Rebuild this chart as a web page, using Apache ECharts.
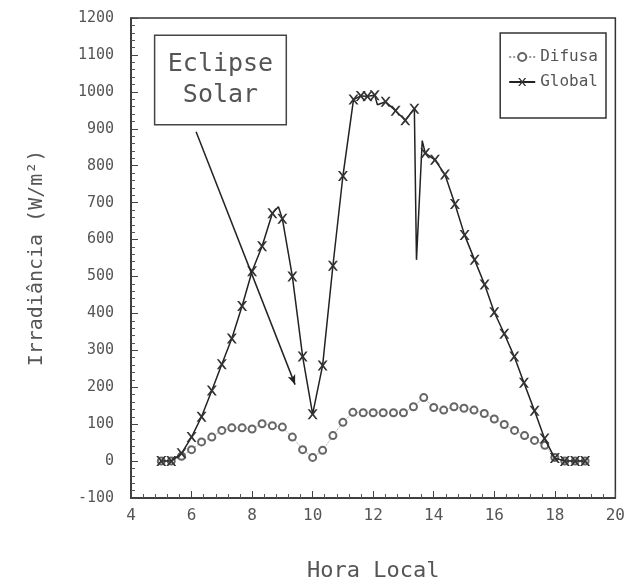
<!DOCTYPE html>
<html><head><meta charset="utf-8">
<script src="https://cdn.jsdelivr.net/npm/echarts@6/dist/echarts.min.js"></script>
<style>html,body{margin:0;padding:0;background:#fff}#c{width:628px;height:587px}</style>
</head><body><div id="c"></div><script>
// Hora local (h) and irradiance (W/m²)
const difusaHora = [5.00,5.33,5.67,6.00,6.33,6.67,7.00,7.33,7.67,8.00,8.33,8.67,9.00,9.33,9.67,10.00,10.33,10.67,11.00,11.33,11.67,12.00,12.33,12.67,13.00,13.33,13.67,14.00,14.33,14.67,15.00,15.33,15.67,16.00,16.33,16.67,17.00,17.33,17.67,18.00,18.33,18.67,19.00];
const difusaVal = [0,0,13,31,52,65,83,90,90,87,101,96,92,65,31,10,29,69,105,132,131,131,131,131,131,147,172,145,138,147,143,138,129,114,99,83,69,56,43,10,0,0,0];
const globalHora = [5.00,5.33,5.67,6.00,6.33,6.67,7.00,7.33,7.67,8.00,8.33,8.67,8.87,9.00,9.33,9.67,10.00,10.33,10.67,11.00,11.35,11.59,11.81,12.05,12.14,12.41,12.74,13.06,13.36,13.43,13.62,13.72,14.04,14.37,14.70,15.02,15.35,15.68,16.00,16.33,16.66,16.98,17.33,17.66,18.00,18.33,18.67,19.00];
const globalVal = [0,0,21,65,120,191,262,332,420,514,582,671,689,656,500,283,127,259,529,772,979,989,988,991,965,973,949,923,954,545,868,834,816,776,696,612,545,478,403,345,283,212,136,61,8,0,0,0];
const globalSemMarcador = [8.87,12.14,13.43,13.62];
const seriesNames = ['Difusa','Global'];
const annotationText = 'Eclipse\nSolar';
const xTitle = 'Hora Local';
const yTitle = 'Irradiância (W/m²)';

const MONO = '"DejaVu Sans Mono", "Liberation Mono", monospace';
const XSYM = 'path://M0,0L2,0L5,3.6L8,0L10,0L6.2,5L10,10L8,10L5,6.4L2,10L0,10L3.8,5Z';

const difusaData = difusaHora.map((h,i)=>[h,difusaVal[i]]);
const globalData = globalHora.map((h,i)=>{
  const item = {value:[h,globalVal[i]]};
  if (globalSemMarcador.indexOf(h) >= 0) item.symbol = 'none';
  return item;
});

const chart = echarts.init(document.getElementById('c'), null, {renderer:'canvas'});
chart.setOption({
  animation:false,
  backgroundColor:'#fff',
  grid:{left:131, right:8, top:18, bottom:81, show:true, borderColor:'#333', borderWidth:1.5, backgroundColor:'transparent'},
  legend:{
    data:seriesNames, orient:'vertical', right:22, top:33,
    borderColor:'#333', borderWidth:1.5, padding:[16,8,28,8], itemGap:9,
    itemWidth:26, itemHeight:10,
    textStyle:{fontFamily:MONO, fontSize:16, color:'#555'}
  },
  xAxis:{
    type:'value', min:4, max:20, interval:2,
    name:xTitle, nameLocation:'middle', nameGap:62,
    nameTextStyle:{fontFamily:MONO, fontSize:22, color:'#555'},
    axisLine:{onZero:false, lineStyle:{color:'#333', width:1.5}},
    axisTick:{inside:true, length:7, lineStyle:{color:'#444'}},
    minorTick:{show:true, splitNumber:5, length:4, lineStyle:{color:'#555'}},
    splitLine:{show:false},
    axisLabel:{fontFamily:MONO, fontSize:16, color:'#555', margin:10}
  },
  yAxis:{
    type:'value', min:-100, max:1200, interval:100,
    name:yTitle, nameLocation:'middle', nameGap:84,
    nameTextStyle:{fontFamily:MONO, fontSize:20, color:'#555'},
    axisLine:{onZero:false, lineStyle:{color:'#333', width:1.5}},
    axisTick:{inside:true, length:7, lineStyle:{color:'#444'}},
    minorTick:{show:true, splitNumber:5, length:4, lineStyle:{color:'#555'}},
    splitLine:{show:false},
    axisLabel:{fontFamily:MONO, fontSize:15, color:'#555', margin:17, formatter:(v)=>String(v)}
  },
  series:[
    {
      name:seriesNames[0], type:'line', data:difusaData,
      symbol:'emptyCircle', symbolSize:7,
      itemStyle:{color:'#666', borderWidth:1.5},
      lineStyle:{color:'#999', width:1, type:'dotted'},
      z:2
    },
    {
      name:seriesNames[1], type:'line', data:globalData,
      symbol:XSYM, symbolSize:10,
      itemStyle:{color:'#333'},
      lineStyle:{color:'#222', width:1.5},
      z:3,
      markArea:{
        silent:true,
        itemStyle:{color:'rgba(0,0,0,0)', borderColor:'#444', borderWidth:1.5},
        label:{show:true, position:'inside', formatter:annotationText,
               fontFamily:MONO, fontSize:25, color:'#555', lineHeight:31},
        data:[[{coord:[4.78,1153]},{coord:[9.13,911]}]]
      },
      markLine:{
        silent:true, symbol:['none','arrow'], symbolSize:[6,10],
        lineStyle:{color:'#222', width:1.5, type:'solid'},
        itemStyle:{color:'#222'},
        label:{show:false},
        data:[[{coord:[6.15,892]},{coord:[9.42,207]}]]
      }
    }
  ]
});
</script></body></html>
